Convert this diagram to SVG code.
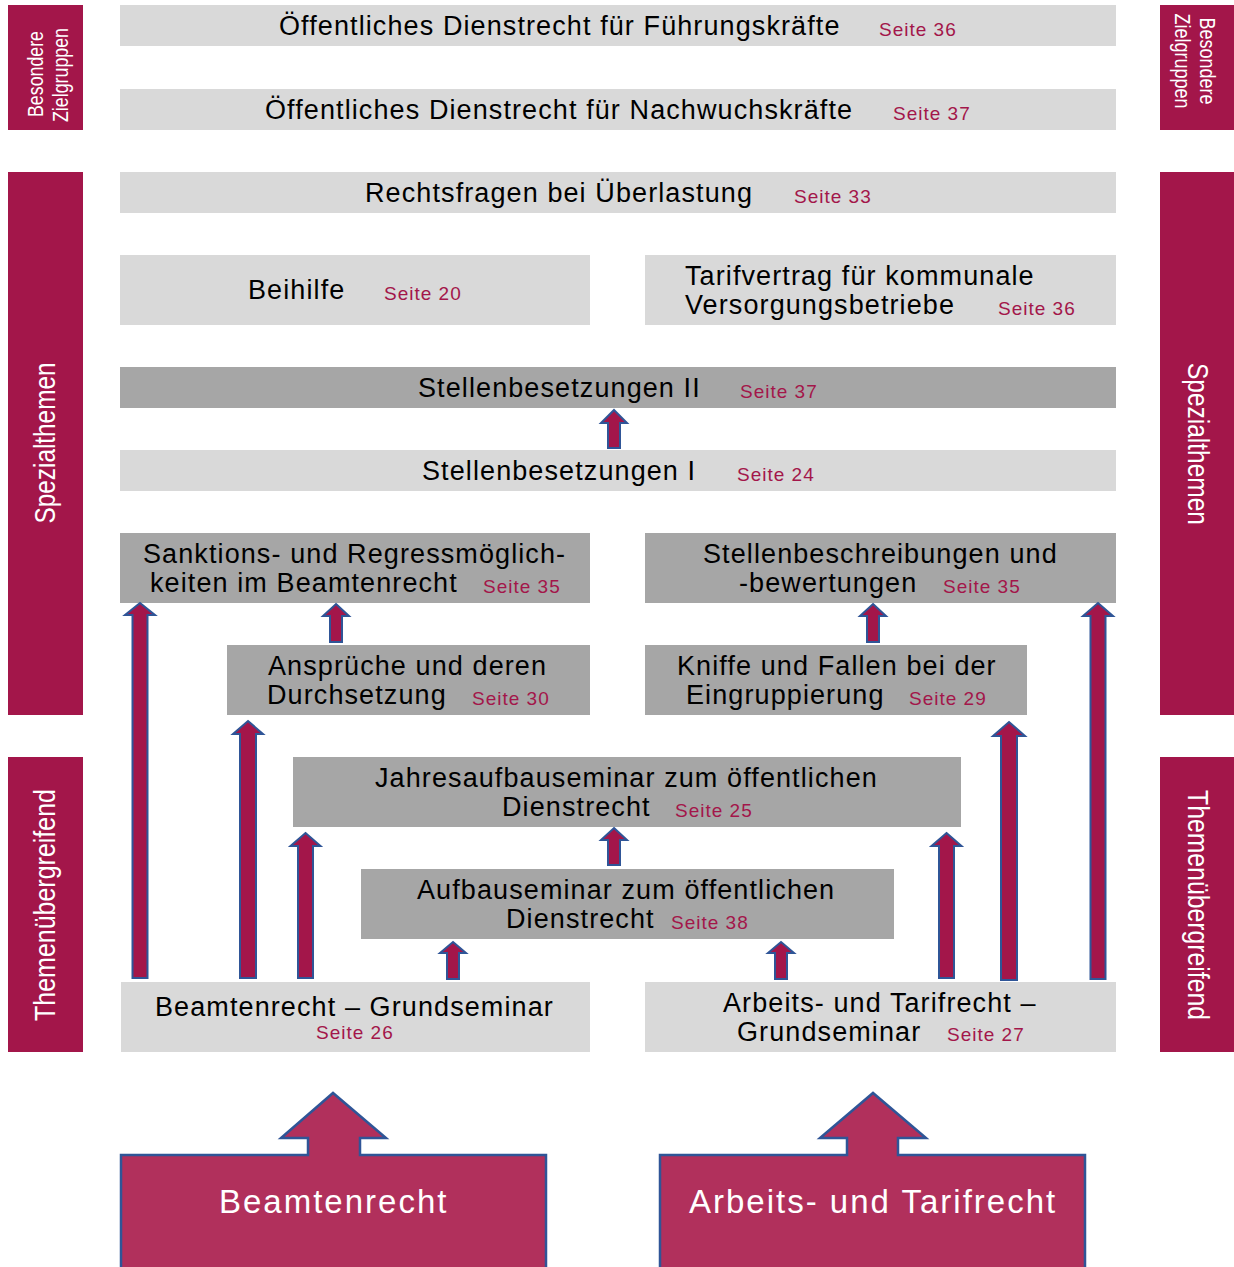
<svg xmlns="http://www.w3.org/2000/svg" width="1234" height="1267" viewBox="0 0 1234 1267">
<style>
.side{fill:#a3164a}
.lg{fill:#d9d9d9}
.dg{fill:#a6a6a6}
.t{font-family:"Liberation Sans",Arial,sans-serif;font-size:27px;fill:#000;letter-spacing:1.1px}
.s{font-family:"Liberation Sans",Arial,sans-serif;font-size:19px;fill:#a3164a;letter-spacing:1px}
.st{font-family:"Liberation Sans",Arial,sans-serif;font-size:30px;fill:#fff}
.sb{font-family:"Liberation Sans",Arial,sans-serif;font-size:22px;fill:#fff}
.big{font-family:"Liberation Sans",Arial,sans-serif;font-size:33px;fill:#fff;letter-spacing:2px}
.arr{fill:#a3164a;stroke:#2f5597;stroke-width:2;stroke-linejoin:miter}
.barr{fill:#b1305c;stroke:#2f5597;stroke-width:2.5}
</style>
<rect width="1234" height="1267" fill="#fff"/>

<g id="side-left">
<rect class="side" x="8" y="5" width="75" height="125"/>
<text class="sb" transform="translate(43,74) rotate(-90)" text-anchor="middle" textLength="86" lengthAdjust="spacingAndGlyphs">Besondere</text>
<text class="sb" transform="translate(68,75) rotate(-90)" text-anchor="middle" textLength="94" lengthAdjust="spacingAndGlyphs">Zielgruppen</text>
<rect class="side" x="8" y="172" width="75" height="543"/>
<text class="st" transform="translate(55,443) rotate(-90)" text-anchor="middle" textLength="161" lengthAdjust="spacingAndGlyphs">Spezialthemen</text>
<rect class="side" x="8" y="757" width="75" height="295"/>
<text class="st" transform="translate(55,905) rotate(-90)" text-anchor="middle" textLength="232" lengthAdjust="spacingAndGlyphs">Themenübergreifend</text>
</g>

<g id="side-right">
<rect class="side" x="1160" y="5" width="74" height="125"/>
<text class="sb" transform="translate(1200,61) rotate(90)" text-anchor="middle" textLength="87" lengthAdjust="spacingAndGlyphs">Besondere</text>
<text class="sb" transform="translate(1175,61) rotate(90)" text-anchor="middle" textLength="95" lengthAdjust="spacingAndGlyphs">Zielgruppen</text>
<rect class="side" x="1160" y="172" width="74" height="543"/>
<text class="st" transform="translate(1188,444) rotate(90)" text-anchor="middle" textLength="162" lengthAdjust="spacingAndGlyphs">Spezialthemen</text>
<rect class="side" x="1160" y="757" width="74" height="295"/>
<text class="st" transform="translate(1188,905) rotate(90)" text-anchor="middle" textLength="230" lengthAdjust="spacingAndGlyphs">Themenübergreifend</text>
</g>

<g id="n-fuehrung">
<rect class="lg" x="120" y="5" width="996" height="41"/>
<text class="t" x="279" y="35">Öffentliches Dienstrecht für Führungskräfte</text>
<text class="s" x="879" y="36">Seite 36</text>
</g>
<g id="n-nachwuchs">
<rect class="lg" x="120" y="89" width="996" height="41"/>
<text class="t" x="265" y="119">Öffentliches Dienstrecht für Nachwuchskräfte</text>
<text class="s" x="893" y="120">Seite 37</text>
</g>
<g id="n-ueberlastung">
<rect class="lg" x="120" y="172" width="996" height="41"/>
<text class="t" x="365" y="202">Rechtsfragen bei Überlastung</text>
<text class="s" x="794" y="203">Seite 33</text>
</g>
<g id="n-beihilfe">
<rect class="lg" x="120" y="255" width="470" height="70"/>
<text class="t" x="248" y="299">Beihilfe</text>
<text class="s" x="384" y="300">Seite 20</text>
</g>
<g id="n-tarifvertrag">
<rect class="lg" x="645" y="255" width="471" height="70"/>
<text class="t" x="685" y="285">Tarifvertrag für kommunale</text>
<text class="t" x="685" y="314">Versorgungsbetriebe</text>
<text class="s" x="998" y="315">Seite 36</text>
</g>
<g id="n-stellen2">
<rect class="dg" x="120" y="367" width="996" height="41"/>
<text class="t" x="418" y="397">Stellenbesetzungen II</text>
<text class="s" x="740" y="398">Seite 37</text>
</g>
<g id="n-stellen1">
<rect class="lg" x="120" y="450" width="996" height="41"/>
<text class="t" x="422" y="480">Stellenbesetzungen I</text>
<text class="s" x="737" y="481">Seite 24</text>
</g>
<g id="n-sanktionen">
<rect class="dg" x="120" y="533" width="470" height="70"/>
<text class="t" x="143" y="563">Sanktions- und Regressmöglich-</text>
<text class="t" x="150" y="592">keiten im Beamtenrecht</text>
<text class="s" x="483" y="593">Seite 35</text>
</g>
<g id="n-stellenbeschreibungen">
<rect class="dg" x="645" y="533" width="471" height="70"/>
<text class="t" x="703" y="563">Stellenbeschreibungen und</text>
<text class="t" x="739" y="592">-bewertungen</text>
<text class="s" x="943" y="593">Seite 35</text>
</g>
<g id="n-ansprueche">
<rect class="dg" x="227" y="645" width="363" height="70"/>
<text class="t" x="268" y="675">Ansprüche und deren</text>
<text class="t" x="267" y="704">Durchsetzung</text>
<text class="s" x="472" y="705">Seite 30</text>
</g>
<g id="n-kniffe">
<rect class="dg" x="645" y="645" width="382" height="70"/>
<text class="t" x="677" y="675">Kniffe und Fallen bei der</text>
<text class="t" x="686" y="704">Eingruppierung</text>
<text class="s" x="909" y="705">Seite 29</text>
</g>
<g id="n-jahresaufbau">
<rect class="dg" x="293" y="757" width="668" height="70"/>
<text class="t" x="375" y="787">Jahresaufbauseminar zum öffentlichen</text>
<text class="t" x="502" y="816">Dienstrecht</text>
<text class="s" x="675" y="817">Seite 25</text>
</g>
<g id="n-aufbau">
<rect class="dg" x="361" y="869" width="533" height="70"/>
<text class="t" x="417" y="899">Aufbauseminar zum öffentlichen</text>
<text class="t" x="506" y="928">Dienstrecht</text>
<text class="s" x="671" y="929">Seite 38</text>
</g>
<g id="n-beamten-grund">
<rect class="lg" x="121" y="982" width="469" height="70"/>
<text class="t" x="155" y="1016">Beamtenrecht – Grundseminar</text>
<text class="s" x="316" y="1039">Seite 26</text>
</g>
<g id="n-arbeits-grund">
<rect class="lg" x="645" y="982" width="471" height="70"/>
<text class="t" x="723" y="1012">Arbeits- und Tarifrecht –</text>
<text class="t" x="737" y="1041">Grundseminar</text>
<text class="s" x="947" y="1041">Seite 27</text>
</g>

<g id="n-beamtenrecht">
<path class="barr" d="M121,1275 L121,1155 L308,1155 L308,1138 L281,1138 L333,1093 L386,1138 L360,1138 L360,1155 L546,1155 L546,1275 Z"/>
<text class="big" x="219" y="1213">Beamtenrecht</text>
</g>
<g id="n-arbeitsrecht">
<path class="barr" d="M660,1275 L660,1155 L847,1155 L847,1138 L820,1138 L873,1093 L926,1138 L898,1138 L898,1155 L1085,1155 L1085,1275 Z"/>
<text class="big" x="689" y="1213">Arbeits- und Tarifrecht</text>
</g>

<g id="connectors">
<path class="arr" d="M614,410 L627,423 L620,423 L620,448 L608,448 L608,423 L601,423 Z"/>
<path class="arr" d="M336,604 L349,616 L342,616 L342,642 L330,642 L330,616 L323,616 Z"/>
<path class="arr" d="M873,604 L886,616 L879,616 L879,642 L867,642 L867,616 L860,616 Z"/>
<path class="arr" d="M614,828 L627,840 L620,840 L620,865 L608,865 L608,840 L601,840 Z"/>
<path class="arr" d="M453,942 L466,953 L459,953 L459,979 L447,979 L447,953 L440,953 Z"/>
<path class="arr" d="M781,942 L794,953 L787,953 L787,979 L775,979 L775,953 L768,953 Z"/>
<path class="arr" d="M140,603 L155,615 L147.5,615 L147.5,978 L132.5,978 L132.5,615 L125,615 Z"/>
<path class="arr" d="M248,721 L263,734 L256,734 L256,978 L240,978 L240,734 L233,734 Z"/>
<path class="arr" d="M305.5,833 L320.5,846 L313,846 L313,978 L298,978 L298,846 L290.5,846 Z"/>
<path class="arr" d="M946.5,833 L961.5,846 L954,846 L954,978 L939,978 L939,846 L931.5,846 Z"/>
<path class="arr" d="M1009,722 L1025,736 L1017,736 L1017,980 L1001,980 L1001,736 L993,736 Z"/>
<path class="arr" d="M1098,603 L1113,616 L1105.5,616 L1105.5,979 L1090.5,979 L1090.5,616 L1083,616 Z"/>
</g>
</svg>
